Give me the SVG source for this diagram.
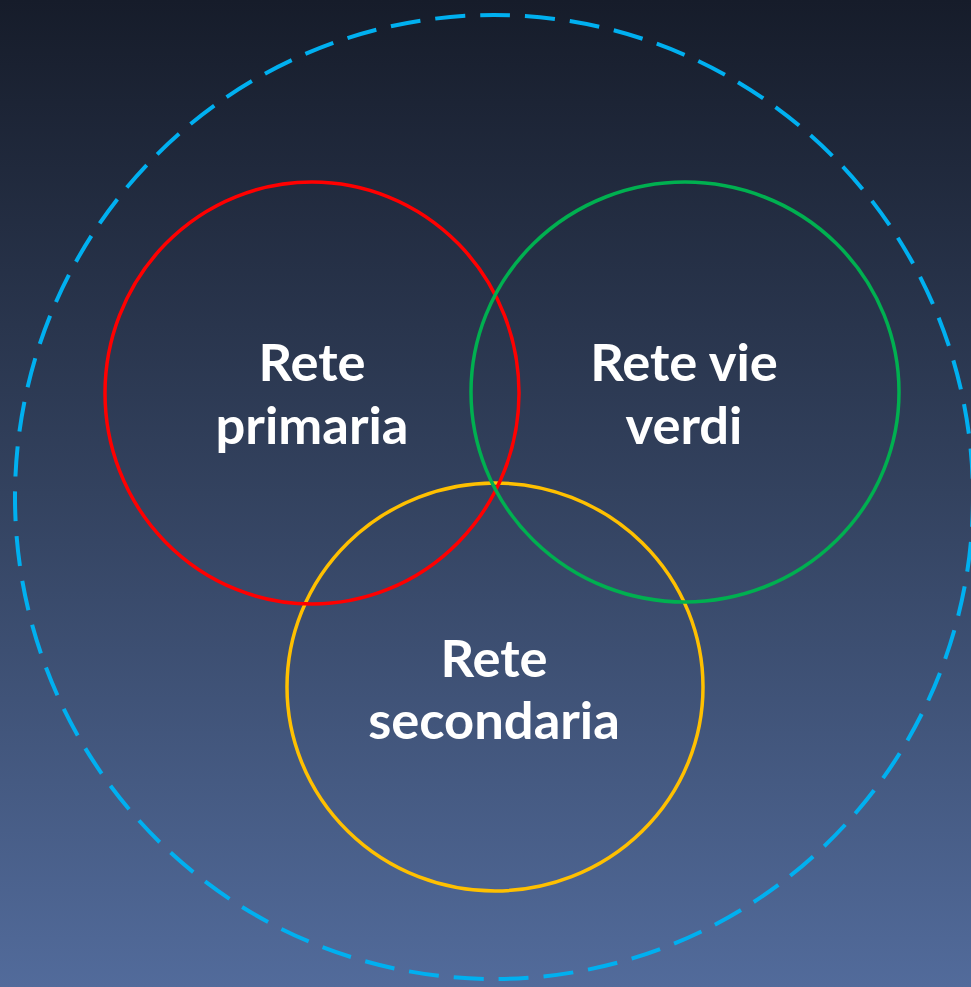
<svg xmlns="http://www.w3.org/2000/svg" width="971" height="987" viewBox="0 0 971 987">
<defs>
<linearGradient id="bg" x1="0" y1="0" x2="0" y2="1">
<stop offset="0" stop-color="#161c2a"/>
<stop offset="0.5" stop-color="#33425f"/>
<stop offset="1" stop-color="#526b9b"/>
</linearGradient>
</defs>
<style>
.ring{fill:none;stroke-width:3.5}
.lbl{fill:#ffffff;font-family:Lato,"Open Sans","Liberation Sans",sans-serif;font-weight:bold;font-size:52.5px;text-anchor:middle}
</style>
<rect x="0" y="0" width="971" height="987" fill="url(#bg)"/>
<g id="outer">
<ellipse cx="494" cy="497" rx="479" ry="482" fill="none" stroke="#00b0f0" stroke-width="4" stroke-dasharray="30 15"/>
</g>
<g id="secondaria">
<ellipse class="ring" cx="495" cy="687" rx="208" ry="204" stroke="#ffc000"/>
<text class="lbl" x="494" y="677">Rete</text>
<text class="lbl" x="494" y="739">secondaria</text>
</g>
<g id="primaria">
<ellipse class="ring" cx="312" cy="393" rx="207" ry="211" stroke="#ff0000"/>
<text class="lbl" x="312" y="381">Rete</text>
<text class="lbl" x="312" y="444">primaria</text>
</g>
<g id="vieverdi">
<ellipse class="ring" cx="685" cy="392" rx="214" ry="210" stroke="#00b050"/>
<text class="lbl" x="684" y="381">Rete vie</text>
<text class="lbl" x="684" y="444">verdi</text>
</g>
<g id="connectors"/>
</svg>
